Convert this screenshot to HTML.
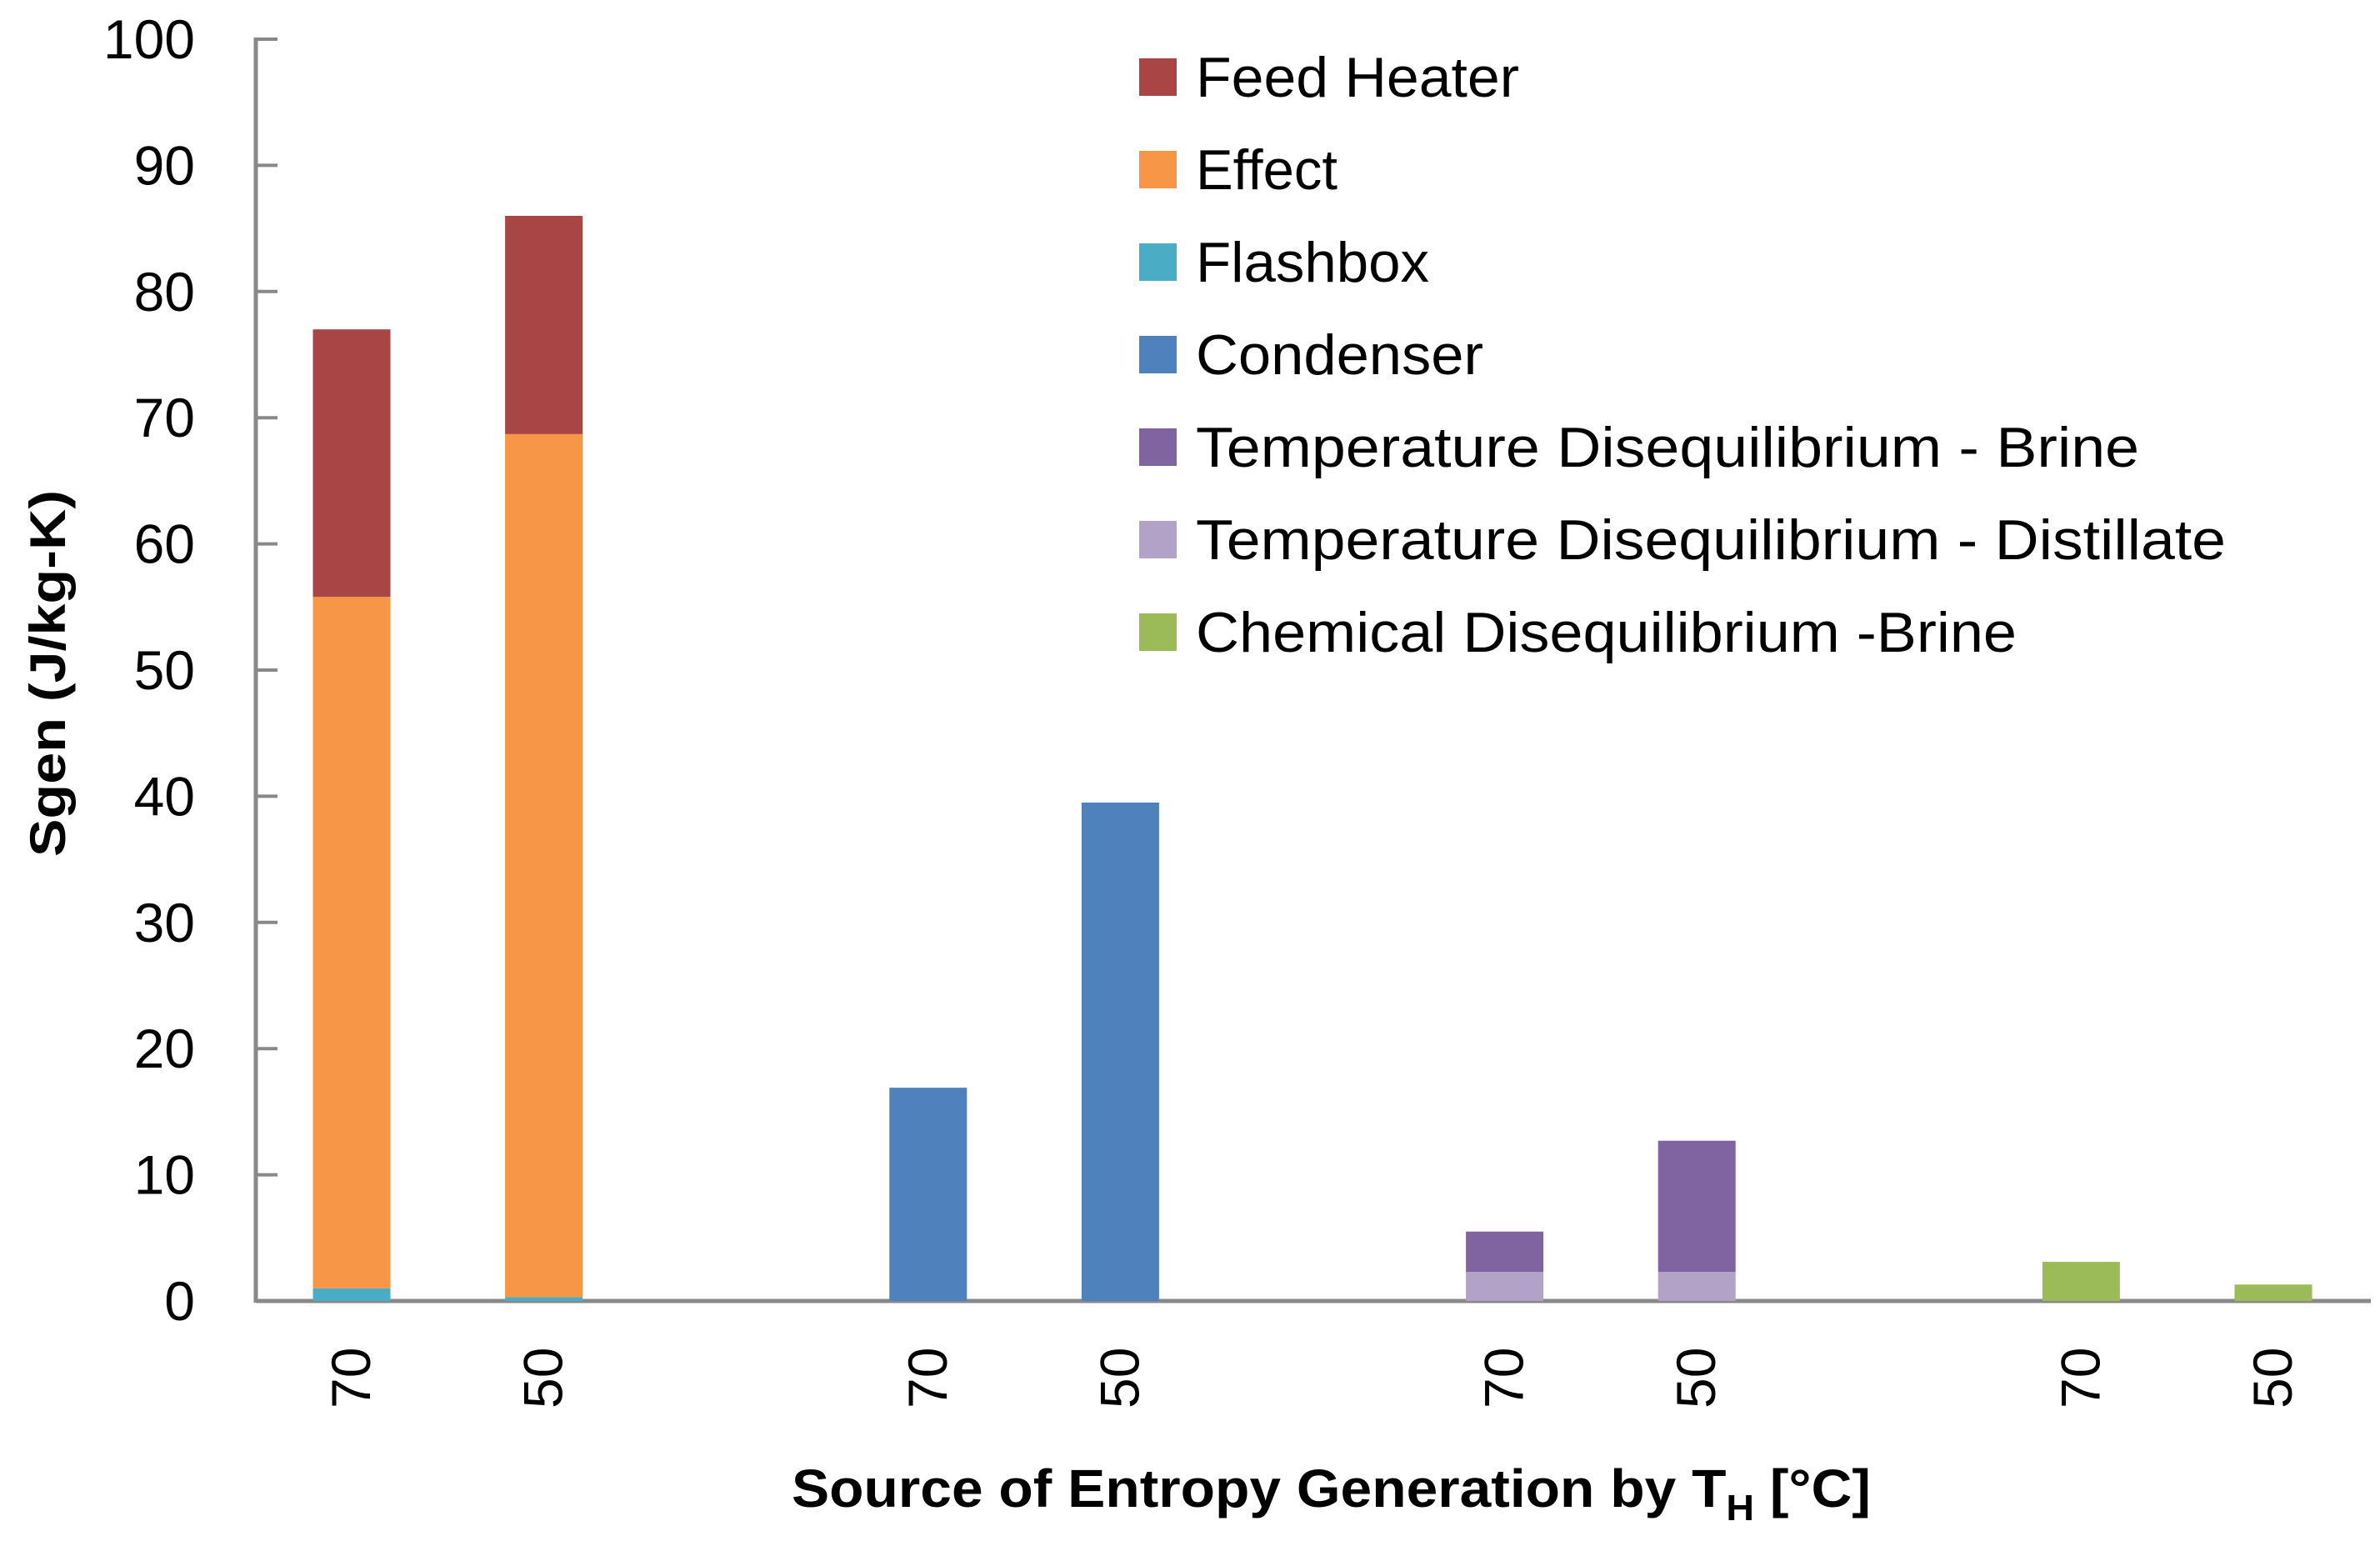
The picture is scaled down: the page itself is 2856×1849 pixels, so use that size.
<!DOCTYPE html>
<html><head><meta charset="utf-8"><style>
html,body{margin:0;padding:0;background:#fff;}
svg{display:block;font-family:"Liberation Sans",sans-serif;}
</style></head><body>
<svg id="chart" width="2856" height="1849" viewBox="0 0 2856 1849" xmlns="http://www.w3.org/2000/svg">
<g id="axes"></g><g id="bars"></g><g id="legend"></g>
<text transform="translate(78,808) rotate(-90)" text-anchor="middle" font-size="60" font-weight="bold" textLength="440" lengthAdjust="spacingAndGlyphs">Sgen  (J/kg-K)</text>
<text x="950" y="1808" font-size="64" font-weight="bold" textLength="1295" lengthAdjust="spacingAndGlyphs">Source of Entropy Generation by T<tspan font-size="44" dy="16">H</tspan><tspan dy="-16"> [°C]</tspan></text>
</svg>
<script>
const categories = ["70","50","70","50","70","50","70","50"];
const slots = [0,1,3,4,6,7,9,10];
const seriesNames = ["Flashbox","Effect","Feed Heater","Condenser","Temperature Disequilibrium - Distillate","Temperature Disequilibrium - Brine","Chemical Disequilibrium -Brine"];
const seriesColors = ["#4bacc6","#f79646","#a84645","#4f81bd","#b2a2c7","#8064a2","#9bbb59"];
const flashbox = [1.0,0.3,0,0,0,0,0,0];
const effect = [54.8,68.4,0,0,0,0,0,0];
const feedHeater = [21.2,17.3,0,0,0,0,0,0];
const condenser = [0,0,16.9,39.5,0,0,0,0];
const tdDistillate = [0,0,0,0,2.3,2.3,0,0];
const tdBrine = [0,0,0,0,3.2,10.4,0,0];
const chemBrine = [0,0,0,0,0,0,3.1,1.3];
const yTicks = [0,10,20,30,40,50,60,70,80,90,100];
const legendOrder = ["Feed Heater","Effect","Flashbox","Condenser","Temperature Disequilibrium - Brine","Temperature Disequilibrium - Distillate","Chemical Disequilibrium -Brine"];
const legendColors = ["#a84645","#f79646","#4bacc6","#4f81bd","#8064a2","#b2a2c7","#9bbb59"];
const legendWidths = [388,170,280,345,1132,1236,985];

const NS="http://www.w3.org/2000/svg";
const X0=307,X1=2845,Y0=1561,Y100=47,SLOT=230.6,BW=93;
const y = v => Y0 - (Y0-Y100)*v/100;
const xc = s => X0 + SLOT*s + 115;
function mk(tag,attrs,parent){const e=document.createElementNS(NS,tag);for(const k in attrs)e.setAttribute(k,attrs[k]);parent.appendChild(e);return e;}
const axes=document.getElementById('axes'),bars=document.getElementById('bars'),legend=document.getElementById('legend');

yTicks.forEach(t=>{
  const l=mk('line',{x1:X0,x2:X0+26,y1:y(t),y2:y(t),stroke:'#888','stroke-width':4},axes);
  
  
  const tx=mk('text',{x:234,y:y(t)+23,'text-anchor':'end','font-size':66},axes);
  tx.textContent=t;
  
  
});

const series=[flashbox,effect,feedHeater,condenser,tdDistillate,tdBrine,chemBrine];
categories.forEach((c,i)=>{
  let base=0;
  series.forEach((arr,si)=>{
    const v=arr[i]; if(!v) return;
    const r=mk('rect',{x:xc(slots[i])-BW/2,y:y(base+v),width:BW,height:y(base)-y(base+v),fill:seriesColors[si]},bars);
    
    
    base+=v;
  });
  const tx=mk('text',{transform:`translate(${xc(slots[i])+22},1690) rotate(-90)`,'font-size':66},axes);
  tx.textContent=c;
  
  
});

const yAxis=mk('line',{x1:X0,x2:X0,y1:Y100-2,y2:Y0+2,stroke:'#888','stroke-width':5},axes);


const xAxis=mk('line',{x1:X0,x2:X1,y1:Y0,y2:Y0,stroke:'#888','stroke-width':5},axes);



legendOrder.forEach((n,i)=>{
  const cy=92+111*i;
  const sq=mk('rect',{x:1367,y:cy-22,width:45,height:45,fill:legendColors[i]},legend);
  
  
  const tx=mk('text',{x:1435,y:cy+24,'font-size':68,textLength:legendWidths[i],lengthAdjust:'spacingAndGlyphs'},legend);
  tx.textContent=n;
  
  
});
</script>
</body></html>
